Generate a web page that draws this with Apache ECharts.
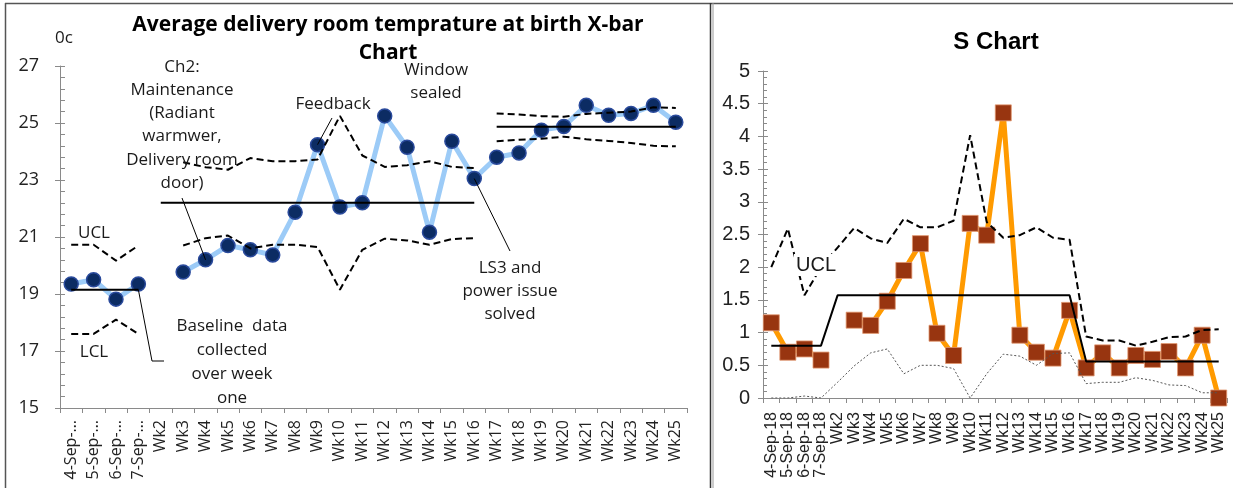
<!DOCTYPE html>
<html>
<head>
<meta charset="utf-8">
<script src="https://cdn.jsdelivr.net/npm/echarts@6/dist/echarts.min.js"></script>
<style>
  html, body { margin: 0; padding: 0; background: #fff; }
  #chart { width: 1233px; height: 488px; }
</style>
</head>
<body>
<div id="chart"></div>
<script>
// Week categories shared by both control charts
const categories = ['4-Sep-18', '5-Sep-18', '6-Sep-18', '7-Sep-18', 'Wk2', 'Wk3', 'Wk4', 'Wk5',
  'Wk6', 'Wk7', 'Wk8', 'Wk9', 'Wk10', 'Wk11', 'Wk12', 'Wk13', 'Wk14', 'Wk15', 'Wk16',
  'Wk17', 'Wk18', 'Wk19', 'Wk20', 'Wk21', 'Wk22', 'Wk23', 'Wk24', 'Wk25'];

// X-bar chart: weekly mean delivery room temperature (°C)
const xbarMean = [19.35, 19.5, 18.82, 19.35, null, 19.77, 20.2, 20.7, 20.55, 20.37, 21.87, 24.24,
  22.05, 22.2, 25.25, 24.15, 21.17, 24.36, 23.05, 23.8, 23.95, 24.75, 24.88, 25.62, 25.27,
  25.33, 25.62, 25.03];

// Baseline phase (from 4-Sep-18)
const xbarCL1 = [19.15, 19.15, 19.15, 19.15];
const xbarUCL1 = [20.73, 20.73, 20.17, 20.7];
const xbarLCL1 = [17.6, 17.6, 18.1, 17.6];
// Change 2 phase: centre from Wk2, limits from Wk3
const xbarCL2 = [22.2, 22.2, 22.2, 22.2, 22.2, 22.2, 22.2, 22.2, 22.2, 22.2, 22.2, 22.2, 22.2, 22.2, 22.2];
const xbarUCL2 = [23.62, 23.45, 23.36, 23.77, 23.66, 23.66, 23.72, 25.25, 23.86, 23.46, 23.52, 23.66, 23.46, 23.42];
const xbarLCL2 = [20.7, 20.96, 21.05, 20.6, 20.73, 20.73, 20.65, 19.15, 20.55, 20.94, 20.88, 20.73, 20.93, 20.96];
// Phase 3 (from Wk17)
const xbarCL3 = [24.87, 24.87, 24.87, 24.87, 24.87, 24.87, 24.87, 24.87, 24.87];
const xbarUCL3 = [25.33, 25.3, 25.24, 25.22, 25.32, 25.36, 25.4, 25.55, 25.53];
const xbarLCL3 = [24.36, 24.41, 24.45, 24.52, 24.43, 24.37, 24.3, 24.2, 24.18];

// S chart: weekly standard deviation with its limits
const sValues = [1.15, 0.7, 0.75, 0.58, null, 1.19, 1.11, 1.48, 1.95, 2.36, 0.99, 0.65, 2.67, 2.49,
  4.36, 0.96, 0.7, 0.61, 1.34, 0.46, 0.69, 0.46, 0.65, 0.59, 0.71, 0.46, 0.96, 0];
const sCenter = [0.8, 0.8, 0.8, 0.8, 1.57, 1.57, 1.57, 1.57, 1.57, 1.57, 1.57, 1.57, 1.57, 1.57,
  1.57, 1.57, 1.57, 1.57, 1.57, 0.56, 0.56, 0.56, 0.56, 0.56, 0.56, 0.56, 0.56, 0.56];
const sUCL = [2.0, 2.59, 1.57, 2.0, 2.3, 2.6, 2.44, 2.37, 2.74, 2.61, 2.61, 2.71, 4.02, 2.69, 2.45,
  2.49, 2.61, 2.45, 2.42, 0.94, 0.88, 0.88, 0.8, 0.86, 0.93, 0.94, 1.04, 1.05];
const sLCL = [0, 0, 0.03, 0, 0.24, 0.49, 0.69, 0.75, 0.37, 0.5, 0.5, 0.45, 0, 0.37, 0.67, 0.64,
  0.5, 0.68, 0.69, 0.22, 0.24, 0.24, 0.31, 0.27, 0.2, 0.19, 0.08, 0.08];

// Y-axis ticks
const xbarTicks = { min: 15, max: 27, step: 2 };
const sTicks = { min: 0, max: 5, step: 0.5 };

// Spread a phase's values over the full category list, starting at a given week
function placeAt(startCategory, values) {
  const start = categories.indexOf(startCategory);
  return categories.map((_, i) => (i >= start && i - start < values.length) ? values[i - start] : null);
}

const AXIS_GRAY = '#8a8a8a';
const LEFT_FONT = '"Open Sans", Lato, sans-serif';
const RIGHT_FONT = '"Liberation Sans", Arial, sans-serif';

function valueAxis(gridIndex, t, font, fontSize, margin) {
  // outer axis: line, labels, major ticks pointing outward
  return {
    gridIndex, type: 'value', min: t.min, max: t.max, interval: t.step,
    axisLine: { show: true, lineStyle: { color: AXIS_GRAY, width: 1 } },
    axisTick: { show: true, length: 5, lineStyle: { color: AXIS_GRAY } },
    axisLabel: { fontFamily: font, fontSize, color: '#222', margin },
    splitLine: { show: false }
  };
}
function innerTickAxis(gridIndex, t, minorLen) {
  // overlay axis: major + minor ticks pointing into the plot
  return {
    gridIndex, type: 'value', min: t.min, max: t.max, interval: t.step, position: 'left',
    axisLine: { show: false },
    axisTick: { show: true, inside: true, length: 5, lineStyle: { color: AXIS_GRAY } },
    minorTick: { show: true, splitNumber: 5, length: minorLen, lineStyle: { color: AXIS_GRAY } },
    axisLabel: { show: false },
    splitLine: { show: false }, minorSplitLine: { show: false }
  };
}
function categoryAxis(gridIndex, font, fontSize, margin, extraLabel) {
  return {
    gridIndex, type: 'category', data: categories, boundaryGap: true,
    axisLine: { show: true, lineStyle: { color: AXIS_GRAY, width: 1 } },
    axisTick: { show: true, length: 5, interval: 0, lineStyle: { color: AXIS_GRAY } },
    axisLabel: Object.assign({ rotate: 90, interval: 0, margin, fontFamily: font, fontSize, color: '#222' }, extraLabel),
    splitLine: { show: false }
  };
}
function ctrlLine(data, kind, xi, yi) {
  const styles = {
    center: { color: '#000', width: 2, type: 'solid' },
    limit: { color: '#000', width: 2, type: [7, 4] },
    thin: { color: '#555', width: 1, type: [2, 2] }
  };
  return {
    type: 'line', data, xAxisIndex: xi, yAxisIndex: yi, symbol: 'none', silent: true,
    connectNulls: false, lineStyle: styles[kind], z: 4, animation: false
  };
}

const chart = echarts.init(document.getElementById('chart'), null, { renderer: 'canvas' });

const option = {
  animation: false,
  backgroundColor: '#fff',
  grid: [
    { left: 60, top: 66, width: 627, height: 342 },
    { left: 763, top: 71, width: 464, height: 327 }
  ],
  xAxis: [
    categoryAxis(0, LEFT_FONT, 16, 12, { width: 63, overflow: 'truncate', ellipsis: '…' }),
    categoryAxis(1, RIGHT_FONT, 16, 14, {})
  ],
  yAxis: [
    valueAxis(0, xbarTicks, LEFT_FONT, 18, 21),
    innerTickAxis(0, xbarTicks, 5),
    valueAxis(1, sTicks, RIGHT_FONT, 20, 13),
    innerTickAxis(1, sTicks, 4)
  ],
  series: [
    {
      name: 'Mean temperature', type: 'line', data: xbarMean, xAxisIndex: 0, yAxisIndex: 0,
      connectNulls: false, symbol: 'circle', symbolSize: 14, showAllSymbol: true, z: 3,
      lineStyle: { color: '#9ccbf7', width: 5 },
      itemStyle: { color: '#0c2c63', borderColor: '#2a4a9c', borderWidth: 1.5 }
    },
    ctrlLine(placeAt('4-Sep-18', xbarCL1), 'center', 0, 0),
    ctrlLine(placeAt('4-Sep-18', xbarUCL1), 'limit', 0, 0),
    ctrlLine(placeAt('4-Sep-18', xbarLCL1), 'limit', 0, 0),
    ctrlLine(placeAt('Wk2', xbarCL2), 'center', 0, 0),
    ctrlLine(placeAt('Wk3', xbarUCL2), 'limit', 0, 0),
    ctrlLine(placeAt('Wk3', xbarLCL2), 'limit', 0, 0),
    ctrlLine(placeAt('Wk17', xbarCL3), 'center', 0, 0),
    ctrlLine(placeAt('Wk17', xbarUCL3), 'limit', 0, 0),
    ctrlLine(placeAt('Wk17', xbarLCL3), 'limit', 0, 0),
    {
      name: 'Standard deviation', type: 'line', data: sValues, xAxisIndex: 1, yAxisIndex: 2,
      connectNulls: false, symbol: 'rect', symbolSize: 16, showAllSymbol: true, z: 3,
      lineStyle: { color: '#ff9a00', width: 5 },
      itemStyle: { color: '#983510', borderColor: 'rgba(225,150,110,0.8)', borderWidth: 1 }
    },
    ctrlLine(sCenter, 'center', 1, 2),
    ctrlLine(sUCL, 'limit', 1, 2),
    ctrlLine(sLCL, 'thin', 1, 2)
  ]
};
chart.setOption(option);

// Pixel position of a data point on the X-bar chart
function px(category, value) {
  return chart.convertToPixel({ xAxisIndex: 0, yAxisIndex: 0 }, [categories.indexOf(category), value]);
}
const idx = c => categories.indexOf(c);
const wk4 = px('Wk4', xbarMean[idx('Wk4')]);
const wk9 = px('Wk9', xbarMean[idx('Wk9')]);
const wk16 = px('Wk16', xbarMean[idx('Wk16')]);
const baseEnd = px('7-Sep-18', xbarCL1[3]);

function label(text, x, y, font, lineHeight, extra) {
  return {
    type: 'text', z: 10, silent: true,
    style: Object.assign({
      text, x, y, align: 'center', verticalAlign: 'middle', textAlign: 'center', textVerticalAlign: 'middle',
      font, lineHeight, fill: '#1a1a1a'
    }, extra || {})
  };
}
function leader(points) {
  return { type: 'polyline', z: 9, silent: true, shape: { points }, style: { stroke: '#000', lineWidth: 1, fill: null } };
}

const annoFont = '17px ' + LEFT_FONT;

chart.setOption({
  graphic: [
    // panel frame
    { type: 'line', shape: { x1: 5, y1: 3.5, x2: 1233, y2: 3.5 }, style: { stroke: '#555', lineWidth: 1.5 } },
    { type: 'line', shape: { x1: 5.5, y1: 3, x2: 5.5, y2: 488 }, style: { stroke: '#555', lineWidth: 1.5 } },
    { type: 'line', shape: { x1: 710.5, y1: 3, x2: 710.5, y2: 488 }, style: { stroke: '#333', lineWidth: 1.5 } },
    { type: 'line', shape: { x1: 713, y1: 3, x2: 713, y2: 488 }, style: { stroke: '#999', lineWidth: 1 } },

    // titles
    label('Average delivery room temprature at birth X-bar\nChart', 388, 39, 'bold 21px ' + LEFT_FONT, 27.5, { fill: '#000' }),
    label('S Chart', 996, 42, 'bold 24px ' + RIGHT_FONT, 26, { fill: '#000' }),
    label('0c', 64, 38, annoFont, 20),

    // X-bar annotations
    label('Ch2:\nMaintenance\n(Radiant\nwarmwer,\nDelivery room\ndoor)', 182, 125, annoFont, 23.2),
    label('Feedback', 333, 104, annoFont, 22),
    label('Window\nsealed', 436, 82, annoFont, 22.7),
    label('UCL', 94, 233, annoFont, 20),
    label('LCL', 94, 352, annoFont, 20),
    label('Baseline  data\ncollected\nover week\none', 232, 362, annoFont, 23.8),
    label('LS3 and\npower issue\nsolved', 510, 291, annoFont, 23.3),
    leader([[182, 198], wk4]),
    leader([[332, 118], wk9]),
    leader([wk16, [510, 251]]),
    leader([baseEnd, [152, 361], [164, 361]]),

    // S chart limit label
    label('UCL', 816, 265, '20px ' + RIGHT_FONT, 22, { backgroundColor: '#fff', padding: [0, 2] })
  ]
});
</script>
</body>
</html>
